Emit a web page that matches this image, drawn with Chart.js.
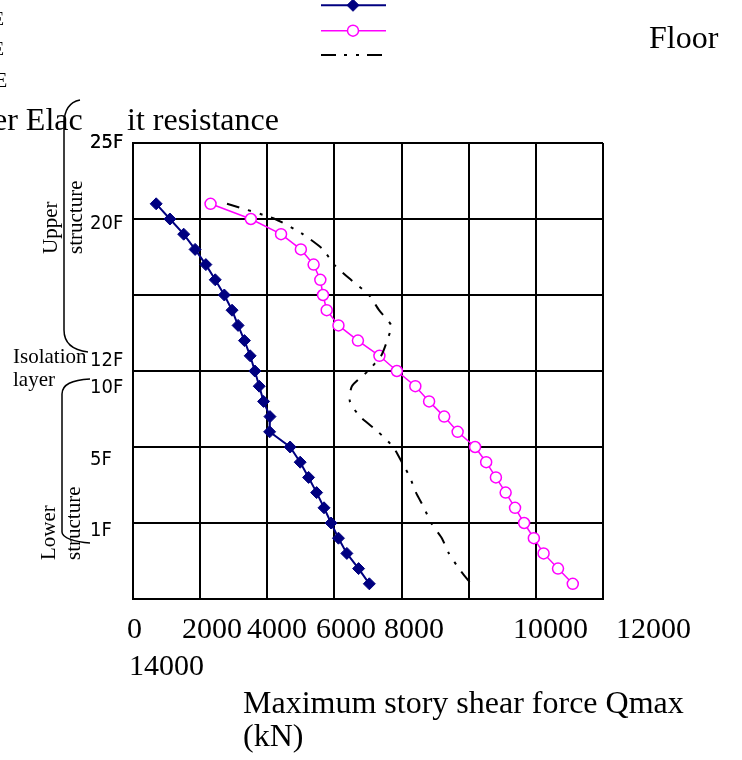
<!DOCTYPE html>
<html>
<head>
<meta charset="utf-8">
<script src="https://cdn.jsdelivr.net/npm/chart.js"></script>
<style>
  html, body { margin: 0; padding: 0; background: #fff; overflow: hidden; }
  #wrap { position: relative; width: 742px; height: 760px; }
  #chart { position: absolute; left: 0; top: 0; }
  #overlay { position: absolute; left: 0; top: 0; pointer-events: none; }
  #overlay text { font-family: "Liberation Serif", "Times New Roman", serif; fill: #000; }
</style>
</head>
<body>
<div id="wrap">
  <canvas id="chart" width="742" height="760"></canvas>
  <svg id="overlay" width="742" height="760" xmlns="http://www.w3.org/2000/svg">
    <!-- clipped fragments of legend text -->
    <text x="-7" y="25" font-size="18">E</text>
    <text x="-7" y="55" font-size="18">E</text>
    <text x="-5" y="87" font-size="20">E</text>
    <text x="649" y="48" font-size="32">Floor</text>
    <text x="-7" y="130" font-size="32">er Elac</text>
    <text x="127" y="130" font-size="32">it resistance</text>

    <!-- braces for the structure parts -->
    <path d="M 80 100 C 70 102, 64 110, 64 124 L 64 330 C 64 342, 72 350, 88 352" fill="none" stroke="#000" stroke-width="1.5"/>
    <path d="M 90 379 C 72 380, 62 384, 62 394 L 62 532 C 62 538, 75 542, 90 543" fill="none" stroke="#000" stroke-width="1.5"/>

    <text transform="translate(57,254) rotate(-90)" font-size="21">Upper</text>
    <text transform="translate(82,254) rotate(-90)" font-size="21">structure</text>
    <text x="13" y="363" font-size="21">Isolation</text>
    <text x="13" y="386" font-size="21">layer</text>
    <text transform="translate(55,560) rotate(-90)" font-size="21">Lower</text>
    <text transform="translate(80,560) rotate(-90)" font-size="21">structure</text>

    <g id="xlabels" font-size="30"></g>
    <text x="243" y="713" font-size="32">Maximum story shear force Qmax</text>
    <text x="243" y="746" font-size="32">(kN)</text>
  </svg>
</div>
<script>
// floor levels, top of building first
const levels = [26, 25, 24, 23, 22, 21, 20, 19, 18, 17, 16, 15, 14, 13, 12, 11, 10, 9, 8, 7, 6, 5, 4, 3, 2, 1];

// maximum story shear force (kN)
const qmaxBlue = [690, 1100, 1510, 1850, 2170, 2450, 2720, 2950, 3130, 3320, 3490, 3630, 3760,
                  3890, 4080, 4070, 4680, 4980, 5230, 5470, 5690, 5900, 6120, 6370, 6720, 7040];
const qmaxMagenta = [2310, 3510, 4410, 5000, 5380, 5580, 5660, 5770, 6120, 6700, 7340, 7860, 8410,
                     8820, 9270, 9670, 10190, 10520, 10810, 11100, 11380, 11650, 11940, 12230, 12660, 13100];
const elasticLimit = [2800, 4230, 5060, 5660, 5990, 6490, 7030, 7330, 7690, 7570, 7390, 7000, 6520,
                      6460, 6760, 7300, 7750, 8010, 8250, 8430, 8670, 8880, 9200, 9410, 9710, 10070];

// axes
const xTickLabels = ['0', '2000', '4000', '6000', '8000', '10000', '12000', '14000'];
const gridLevels = [0, 5, 10, 15, 20, 25, 30];
const floorLabels = ['25F', '20F', '12F', '10F', '5F', '1F'];
const floorLabelLevels = [30, 24.7, 15.66, 13.88, 9.14, 4.47];

// where the (wrapped) x tick labels sit in the picture
const xLabelPos = [[127, 638], [182, 638], [247, 638], [316, 638], [384, 638], [513, 638], [616, 638], [129, 675]];

const g = document.getElementById('xlabels');
xTickLabels.forEach((t, i) => {
    const el = document.createElementNS('http://www.w3.org/2000/svg', 'text');
    el.setAttribute('x', xLabelPos[i][0]);
    el.setAttribute('y', xLabelPos[i][1]);
    el.textContent = t;
    g.appendChild(el);
});

function toPoints(xs) {
    return xs.map((v, i) => ({ x: v, y: levels[i] }));
}

// small legend with only the line samples (labels are hidden in the original)
const legendRowY = [5.3, 30.7, 55];
const sampleLegend = {
    id: 'sampleLegend',
    afterDraw(chart) {
        const ctx = chart.ctx;
        chart.data.datasets.forEach((ds, i) => {
            const y = legendRowY[i];
            ctx.save();
            ctx.strokeStyle = ds.borderColor;
            ctx.lineWidth = ds.borderWidth;
            ctx.setLineDash(ds.legendDash || []);
            ctx.beginPath();
            ctx.moveTo(321, y);
            ctx.lineTo(386, y);
            ctx.stroke();
            ctx.setLineDash([]);
            if (ds.pointRadius > 0) {
                ctx.fillStyle = ds.pointBackgroundColor;
                ctx.strokeStyle = ds.pointBorderColor;
                ctx.lineWidth = ds.pointBorderWidth;
                Chart.helpers.drawPoint(ctx, {
                    pointStyle: ds.pointStyle,
                    radius: ds.pointRadius,
                    rotation: 0,
                    borderWidth: ds.pointBorderWidth
                }, 353, y);
            }
            ctx.restore();
        });
    }
};

const allYTicks = gridLevels.concat(floorLabelLevels).sort((a, b) => a - b);
const labelFont = '"Liberation Sans Narrow", "DejaVu Sans Condensed", "Arial Narrow", sans-serif';

new Chart(document.getElementById('chart'), {
    type: 'scatter',
    data: {
        datasets: [
            {
                label: 'Qmax 1',
                data: toPoints(qmaxBlue),
                showLine: true,
                borderColor: '#000080',
                borderWidth: 2,
                pointStyle: 'rectRot',
                pointRadius: 6,
                pointBackgroundColor: '#000080',
                pointBorderColor: '#000080',
                pointBorderWidth: 1,
                order: 2
            },
            {
                label: 'Qmax 2',
                data: toPoints(qmaxMagenta),
                showLine: true,
                borderColor: '#FF00FF',
                borderWidth: 1.5,
                pointStyle: 'circle',
                pointRadius: 5.5,
                pointBackgroundColor: '#FFFFFF',
                pointBorderColor: '#FF00FF',
                pointBorderWidth: 1.5,
                order: 1
            },
            {
                label: 'Elastic limit resistance',
                data: toPoints(elasticLimit),
                showLine: true,
                borderColor: '#000000',
                borderWidth: 2,
                borderDash: [13, 9, 3, 9, 3, 9],
                legendDash: [15, 8, 3, 9, 3, 8],
                tension: 0.2,
                pointRadius: 0,
                order: 0
            }
        ]
    },
    options: {
        responsive: false,
        animation: false,
        events: [],
        layout: { padding: { left: 90, top: 143, right: 139, bottom: 161 } },
        plugins: {
            legend: { display: false },
            tooltip: { enabled: false }
        },
        scales: {
            x: {
                type: 'linear',
                min: 0,
                max: 14000,
                ticks: { display: false, stepSize: 2000 },
                grid: { color: '#000', lineWidth: 2, drawTicks: false },
                border: { color: '#000', width: 2 }
            },
            y: {
                type: 'linear',
                min: 0,
                max: 30,
                afterBuildTicks: (scale) => {
                    scale.ticks = allYTicks.map(v => ({ value: v }));
                },
                afterFit: (scale) => {
                    scale.width = 43;
                },
                ticks: {
                    autoSkip: false,
                    crossAlign: 'far',
                    padding: 0,
                    color: '#000',
                    font: { family: labelFont, size: 20 },
                    callback: (v) => {
                        const k = floorLabelLevels.indexOf(v);
                        return k >= 0 ? floorLabels[k] : '';
                    }
                },
                grid: {
                    drawTicks: false,
                    lineWidth: 2,
                    color: (ctx) => (ctx.tick && gridLevels.includes(ctx.tick.value)) ? '#000' : 'rgba(0,0,0,0)'
                },
                border: { color: '#000', width: 2 }
            }
        }
    },
    plugins: [sampleLegend]
});
</script>
</body>
</html>
